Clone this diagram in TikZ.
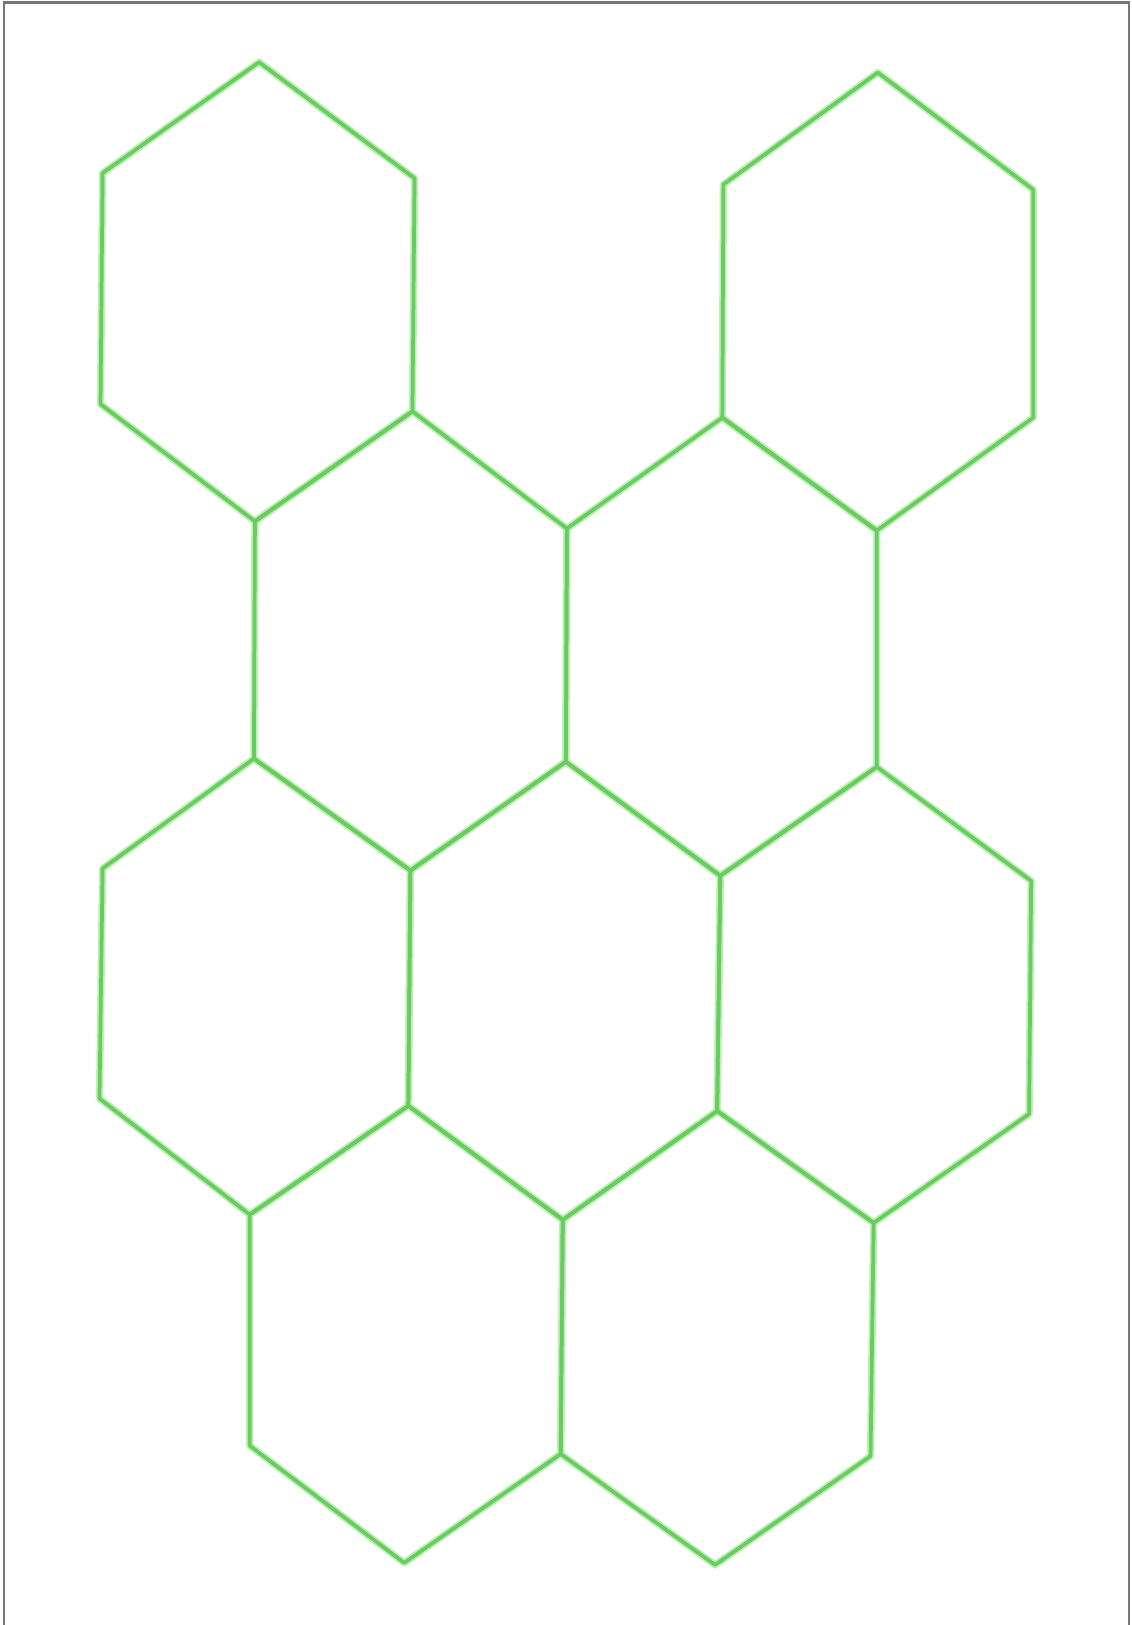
\documentclass[tikz,border=0pt]{standalone}
\usepackage{xcolor}
\definecolor{hexgreen}{RGB}{104,204,96}
\definecolor{hexglow}{RGB}{190,240,180}
\definecolor{frame}{RGB}{118,118,118}
\begin{document}
\begin{tikzpicture}[x=1pt,y=-1pt,
  hexline/.style={draw=hexgreen,line width=3.6pt,line join=round,line cap=round},
  hexhalo/.style={draw=hexglow,line width=7pt,line join=round,line cap=round},
  frameline/.style={draw=frame,line width=2.4pt}]
\useasboundingbox (0,0) rectangle (1092,1568);
\fill[white] (0,0) rectangle (1092,1568);
\draw[frameline] (4,1570) -- (4,2.5) -- (1089.5,2.5) -- (1089.5,1570);
% vertices
\coordinate (a1) at (250,60);  \coordinate (a2) at (400,172);
\coordinate (a3) at (398,397); \coordinate (a4) at (246,503);
\coordinate (a5) at (97,390);  \coordinate (a6) at (99,167);
\coordinate (b1) at (847,70);  \coordinate (b2) at (997,183);
\coordinate (b3) at (997,403); \coordinate (b4) at (846,512);
\coordinate (b5) at (697,403); \coordinate (b6) at (698,178);
\coordinate (c2) at (547,510); \coordinate (c3) at (546,735);
\coordinate (c4) at (396,840); \coordinate (c5) at (245,732);
\coordinate (d3) at (846,740); \coordinate (d4) at (695,845);
\coordinate (e3) at (394,1067);\coordinate (e4) at (241,1172);
\coordinate (e5) at (96,1060); \coordinate (e6) at (99,838);
\coordinate (f3) at (692,1072);\coordinate (f4) at (543,1177);
\coordinate (g2) at (995,850); \coordinate (g3) at (993,1075);
\coordinate (g4) at (843,1180);
\coordinate (h3) at (541,1403);\coordinate (h4) at (390,1508);
\coordinate (h5) at (241,1395);
\coordinate (i3) at (840,1405);\coordinate (i4) at (690,1510);
% hexagons
\foreach \st in {hexhalo,hexline}{
\path[\st] (a1)--(a2)--(a3)--(a4)--(a5)--(a6)--cycle;
\path[\st] (b1)--(b2)--(b3)--(b4)--(b5)--(b6)--cycle;
\path[\st] (a3)--(c2)--(c3)--(c4)--(c5)--(a4)--cycle;
\path[\st] (b5)--(b4)--(d3)--(d4)--(c3)--(c2)--cycle;
\path[\st] (c5)--(c4)--(e3)--(e4)--(e5)--(e6)--cycle;
\path[\st] (c3)--(d4)--(f3)--(f4)--(e3)--(c4)--cycle;
\path[\st] (d3)--(g2)--(g3)--(g4)--(f3)--(d4)--cycle;
\path[\st] (e3)--(f4)--(h3)--(h4)--(h5)--(e4)--cycle;
\path[\st] (f3)--(g4)--(i3)--(i4)--(h3)--(f4)--cycle;
}
\end{tikzpicture}
\end{document}
